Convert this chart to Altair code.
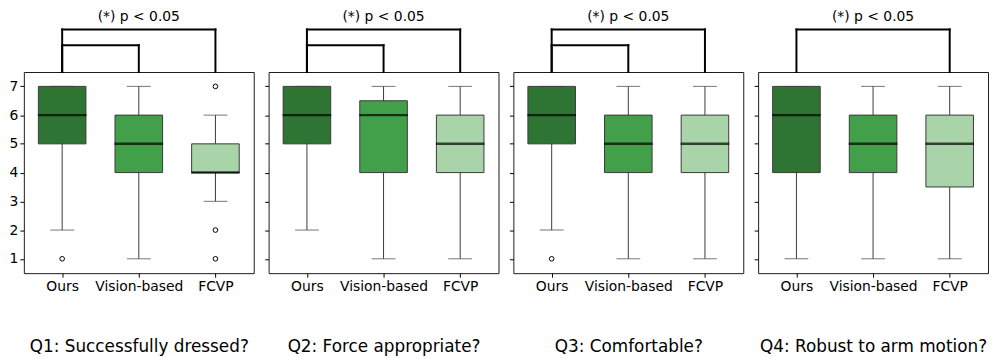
import altair as alt
import pandas as pd

# ---------------- data ----------------
questions = [
    "Q1: Successfully dressed?",
    "Q2: Force appropriate?",
    "Q3: Comfortable?",
    "Q4: Robust to arm motion?",
]
methods = ["Ours", "Vision-based", "FCVP"]

# per question, per method (Ours, Vision-based, FCVP)
whisker_low = [[2, 1, 3], [2, 1, 1], [2, 1, 1], [1, 1, 1]]
box_low = [[5, 4, 4], [5, 4, 4], [5, 4, 4], [4, 4, 3.5]]
medians = [[6, 5, 4], [6, 6, 5], [6, 5, 5], [6, 5, 5]]
box_high = [[7, 6, 5], [7, 6.5, 6], [7, 6, 6], [7, 6, 6]]
whisker_high = [[7, 7, 6], [7, 7, 7], [7, 7, 7], [7, 7, 7]]

outlier_question = [0, 0, 0, 0, 2]
outlier_method = ["Ours", "FCVP", "FCVP", "FCVP", "Ours"]
outlier_value = [1, 7, 2, 1, 1]

bracket_question = [0, 0, 1, 1, 2, 2, 3]
bracket_from = ["Ours", "Ours", "Ours", "Ours", "Ours", "Ours", "Ours"]
bracket_to = ["Vision-based", "FCVP", "Vision-based", "FCVP", "Vision-based", "FCVP", "FCVP"]
bracket_level = [0, 1, 0, 1, 0, 1, 1]

significance_label = "(*) p < 0.05"
colors = ["#2e7433", "#43a04a", "#a9d4a9"]

# ---------------- style ----------------
FONT = "DejaVu Sans"
PANEL_W = 232
PANEL_H = 203
BOX_W = 48
CAP_W = 24
EDGE = "#3a3a3a"
LEVEL_PX = {0: -27, 1: -43}

x_scale = alt.Scale(type="point", domain=methods, padding=0.5)
y_scale = alt.Scale(domain=[0.5, 7.5], nice=False, zero=False)
color_scale = alt.Scale(domain=methods, range=colors)


def panel(i):
    stats = pd.DataFrame({
        "method": methods,
        "lo": whisker_low[i],
        "q1": box_low[i],
        "med": medians[i],
        "q3": box_high[i],
        "hi": whisker_high[i],
    })
    x_axis = alt.Axis(title=questions[i], labelAngle=0, titlePadding=46)
    y_axis = alt.Axis(values=[1, 2, 3, 4, 5, 6, 7], labels=(i == 0), title=None)
    X = alt.X("method:N", scale=x_scale, axis=x_axis, sort=methods)
    base = alt.Chart(stats)

    layers = [
        base.mark_rule(color=EDGE, strokeWidth=1).encode(
            x=X, y=alt.Y("lo:Q", scale=y_scale, axis=y_axis), y2="hi:Q"),
        base.mark_tick(color=EDGE, size=CAP_W, thickness=1).encode(
            x=X, y=alt.Y("lo:Q", scale=y_scale, axis=y_axis)),
        base.mark_tick(color=EDGE, size=CAP_W, thickness=1).encode(
            x=X, y=alt.Y("hi:Q", scale=y_scale, axis=y_axis)),
        base.mark_bar(size=BOX_W, stroke=EDGE, strokeWidth=1, opacity=1).encode(
            x=X, y=alt.Y("q1:Q", scale=y_scale, axis=y_axis), y2="q3:Q",
            color=alt.Color("method:N", scale=color_scale, legend=None)),
        base.mark_tick(color="black", size=BOX_W + 1, thickness=2.5).encode(
            x=X, y=alt.Y("med:Q", scale=y_scale, axis=y_axis)),
    ]

    out = pd.DataFrame({
        "method": [m for q, m in zip(outlier_question, outlier_method) if q == i],
        "value": [v for q, v in zip(outlier_question, outlier_value) if q == i],
    })
    if len(out):
        layers.append(
            alt.Chart(out).mark_point(shape="circle", filled=False, color="black",
                                      size=22, strokeWidth=1, opacity=1).encode(
                x=X, y=alt.Y("value:Q", scale=y_scale, axis=y_axis)))

    for level, ypx in LEVEL_PX.items():
        rows = [(a, b) for q, a, b, l in zip(bracket_question, bracket_from, bracket_to, bracket_level)
                if q == i and l == level]
        if not rows:
            continue
        spans = pd.DataFrame({"method": [a for a, b in rows], "method_to": [b for a, b in rows]})
        legs = pd.DataFrame({"method": [a for a, b in rows] + [b for a, b in rows]})
        layers.append(
            alt.Chart(spans).mark_rule(color="black", strokeWidth=2, strokeCap="square").encode(
                x=X, x2="method_to:N", y=alt.value(ypx)))
        layers.append(
            alt.Chart(legs).mark_rule(color="black", strokeWidth=2, strokeCap="square").encode(
                x=X, y=alt.value(0), y2=alt.value(ypx)))

    return alt.layer(*layers).properties(
        width=PANEL_W, height=PANEL_H,
        title=alt.TitleParams(significance_label, fontSize=14, font=FONT, fontWeight="normal",
                              color="black", offset=4, frame="group", anchor="middle"),
    )


chart = alt.hconcat(*[panel(i) for i in range(4)], spacing=9).properties(
    padding={"left": 0, "top": 0, "right": 0, "bottom": 0}
).configure_view(stroke="#1a1a1a", strokeWidth=1).configure_axis(
    grid=False, domain=False, ticks=True, tickColor="black", tickSize=4, tickWidth=1,
    labelFont=FONT, labelFontSize=14, labelColor="black", labelPadding=2,
    titleFont=FONT, titleFontSize=17, titleFontWeight="normal", titleColor="black",
)

chart.save("out.html", embed_options={"renderer": "svg", "actions": False})
